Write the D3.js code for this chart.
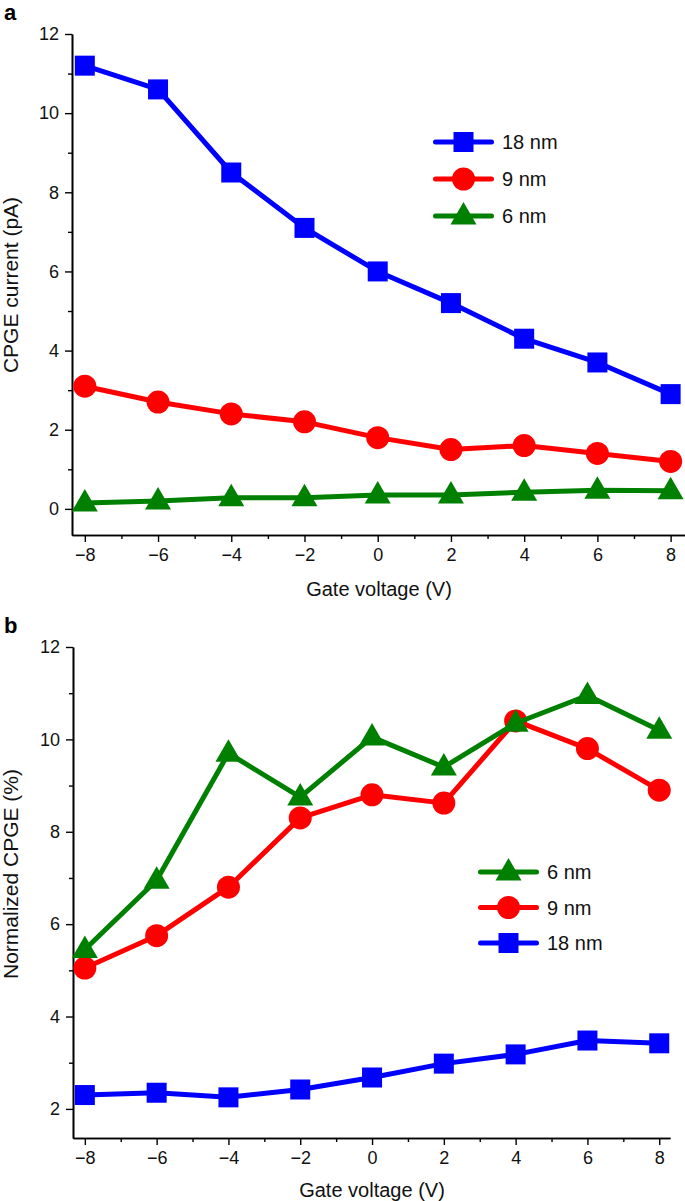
<!DOCTYPE html>
<html><head><meta charset="utf-8">
<script src="https://cdn.jsdelivr.net/npm/d3@7"></script>
<style>body{margin:0;background:#fff}svg{display:block;font-family:"Liberation Sans",Arial,sans-serif}</style>
</head><body>
<script>
const gateVoltage = [-8, -6, -4, -2, 0, 2, 4, 6, 8];
const xTicks = [-8, -6, -4, -2, 0, 2, 4, 6, 8];
const xMinorTicks = [-7, -5, -3, -1, 1, 3, 5, 7];

// Panel a: CPGE current (pA)
const currentTicks = [0, 2, 4, 6, 8, 10, 12];
const currentMinor = [1, 3, 5, 7, 9, 11];
const current18 = [11.2, 10.6, 8.5, 7.1, 6.0, 5.2, 4.3, 3.7, 2.9];
const current9 = [3.1, 2.7, 2.4, 2.2, 1.8, 1.5, 1.6, 1.4, 1.2];
const current6 = [0.15, 0.2, 0.28, 0.28, 0.35, 0.35, 0.42, 0.47, 0.46];

// Panel b: Normalized CPGE (%)
const normTicks = [2, 4, 6, 8, 10, 12];
const normMinor = [3, 5, 7, 9, 11];
const norm6 = [5.45, 6.95, 9.7, 8.75, 10.05, 9.4, 10.35, 10.95, 10.2];
const norm9 = [5.05, 5.75, 6.8, 8.3, 8.8, 8.62, 10.4, 9.8, 8.9];
const norm18 = [2.3, 2.35, 2.25, 2.42, 2.68, 2.98, 3.18, 3.48, 3.42];

const colors = {"18 nm": "#0000ff", "9 nm": "#ff0000", "6 nm": "#008000"};
const shapes = {"18 nm": "square", "9 nm": "circle", "6 nm": "triangle"};

const W = 685, H = 1201;
const svg = d3.select("body").append("svg").attr("width", W).attr("height", H);

function marker(g, shape, x, y, color) {
  if (shape === "square") {
    g.append("rect").attr("x", x - 10).attr("y", y - 10).attr("width", 20).attr("height", 20).attr("fill", color);
  } else if (shape === "circle") {
    g.append("circle").attr("cx", x).attr("cy", y).attr("r", 11.5).attr("fill", color);
  } else {
    g.append("path").attr("d", `M${x},${y - 14}L${x + 13},${y + 8.5}L${x - 13},${y + 8.5}Z`).attr("fill", color);
  }
}

function panel(opt) {
  const x = d3.scaleLinear().domain(opt.xDomain).range([opt.left, opt.right]);
  const y = d3.scaleLinear().domain(opt.yDomain).range([opt.bottom, opt.top]);
  const g = svg.append("g");

  g.append("g").attr("transform", `translate(0,${opt.bottom})`)
    .call(d3.axisBottom(x).tickValues(xTicks).tickSize(7).tickSizeOuter(0).tickPadding(6).tickFormat(d => d < 0 ? "\u2212" + Math.abs(d) : d));
  g.append("g").attr("transform", `translate(0,${opt.bottom})`)
    .call(d3.axisBottom(x).tickValues(xMinorTicks).tickSize(4).tickSizeOuter(0).tickFormat(""));
  g.append("g").attr("transform", `translate(${opt.left},0)`)
    .call(d3.axisLeft(y).tickValues(opt.yTicks).tickSize(7).tickSizeOuter(0).tickPadding(6));
  g.append("g").attr("transform", `translate(${opt.left},0)`)
    .call(d3.axisLeft(y).tickValues(opt.yMinor).tickSize(4).tickSizeOuter(0).tickFormat(""));
  g.selectAll(".domain").attr("stroke", "#000").attr("stroke-width", 1.6);
  g.selectAll(".tick line").attr("stroke", "#000").attr("stroke-width", 1.4);
  g.selectAll(".tick text").attr("font-size", 18).attr("fill", "#111").attr("font-family", "Liberation Sans, Arial, sans-serif");

  const line = d3.line().x((d, i) => x(gateVoltage[i])).y(d => y(d));
  opt.series.forEach(s => {
    g.append("path").datum(s.values).attr("d", line).attr("fill", "none")
      .attr("stroke", colors[s.name]).attr("stroke-width", 5).attr("stroke-linejoin", "round");
    s.values.forEach((v, i) => marker(g, shapes[s.name], x(gateVoltage[i]), y(v), colors[s.name]));
  });

  opt.legendOrder.forEach((name, i) => {
    const ly = opt.legendY + i * opt.legendGap;
    g.append("line").attr("x1", opt.legendX + 2.5).attr("x2", opt.legendX + 58.5).attr("y1", ly).attr("y2", ly)
      .attr("stroke", colors[name]).attr("stroke-width", 5).attr("stroke-linecap", "round");
    marker(g, shapes[name], opt.legendX + 30.5, ly, colors[name]);
    g.append("text").attr("x", opt.legendX + 69).attr("y", ly + 7).attr("font-size", 20).attr("fill", "#111").text(name);
  });

  g.append("text").attr("x", 4).attr("y", opt.panelY).attr("font-size", 22).attr("font-weight", "bold").text(opt.panel);
  g.append("text").attr("transform", `translate(${opt.yLabelX},${opt.yLabelY}) rotate(-90)`)
    .attr("text-anchor", "middle").attr("font-size", 21).attr("fill", "#111").text(opt.yLabel);
  g.append("text").attr("x", opt.xLabelX).attr("y", opt.xLabelY).attr("text-anchor", "middle")
    .attr("font-size", 20).attr("fill", "#111").text("Gate voltage (V)");
}

panel({
  panel: "a", panelY: 20,
  left: 72, right: 686, top: 34, bottom: 535,
  xDomain: [-8.35, 8.42], yDomain: [-0.66, 12],
  yTicks: currentTicks, yMinor: currentMinor,
  series: [{name: "18 nm", values: current18}, {name: "9 nm", values: current9}, {name: "6 nm", values: current6}],
  legendOrder: ["18 nm", "9 nm", "6 nm"], legendX: 433, legendY: 142, legendGap: 37,
  yLabel: "CPGE current (pA)", yLabelX: 18, yLabelY: 285, xLabelX: 379, xLabelY: 596
});

panel({
  panel: "b", panelY: 633,
  left: 73, right: 670, top: 647, bottom: 1138,
  xDomain: [-8.33, 8.3], yDomain: [1.37, 12],
  yTicks: normTicks, yMinor: normMinor,
  series: [{name: "18 nm", values: norm18}, {name: "9 nm", values: norm9}, {name: "6 nm", values: norm6}],
  legendOrder: ["6 nm", "9 nm", "18 nm"], legendX: 478, legendY: 872, legendGap: 35.5,
  yLabel: "Normalized CPGE (%)", yLabelX: 18, yLabelY: 874, xLabelX: 372, xLabelY: 1197
});
</script>
</body></html>
